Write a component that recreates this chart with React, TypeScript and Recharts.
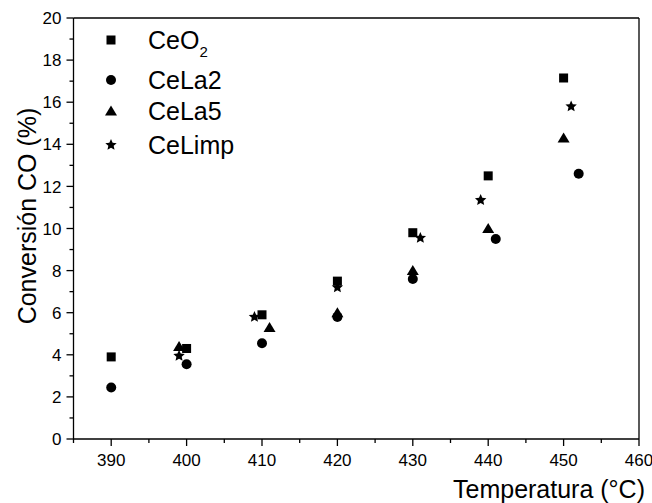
import React from 'react';
import { ScatterChart, Scatter, XAxis, YAxis, ReferenceLine } from 'recharts';

const seriesNames = ['CeO', 'CeLa2', 'CeLa5', 'CeLimp'];
const ceo2X = [390, 400, 410, 420, 430, 440, 450];
const ceo2Y = [3.9, 4.3, 5.9, 7.5, 9.8, 12.5, 17.15];
const cela2X = [390, 400, 410, 420, 430, 441, 452];
const cela2Y = [2.45, 3.55, 4.55, 5.8, 7.6, 9.5, 12.6];
const cela5X = [399, 411, 420, 430, 440, 450];
const cela5Y = [4.4, 5.3, 6.0, 8.0, 10.0, 14.3];
const celimpX = [399, 409, 420, 431, 439, 451];
const celimpY = [3.95, 5.8, 7.2, 9.55, 11.35, 15.8];

const xTicks = [385, 390, 395, 400, 405, 410, 415, 420, 425, 430, 435, 440, 445, 450, 455, 460];
const xLabels = [390, 400, 410, 420, 430, 440, 450, 460];
const yTicks = [0, 1, 2, 3, 4, 5, 6, 7, 8, 9, 10, 11, 12, 13, 14, 15, 16, 17, 18, 19, 20];
const yLabels = [0, 2, 4, 6, 8, 10, 12, 14, 16, 18, 20];
const xMax = 460;
const yMax = 20;

const FONT = 'Liberation Sans';
const AX = '#000';
const AXW = 1.3;
const CHART_W = 652;
const CHART_H = 503;

const toPoints = (xs: number[], ys: number[]) => xs.map((x, i) => ({ x, y: ys[i] }));

const Square = ({ cx, cy }: any) => <rect x={cx - 4.5} y={cy - 4.5} width={9} height={9} fill="#000" />;
const Circle = ({ cx, cy }: any) => <circle cx={cx} cy={cy} r={5} fill="#000" />;
const Triangle = ({ cx, cy }: any) => (
  <polygon points={`${cx - 6},${cy + 4.5} ${cx + 6},${cy + 4.5} ${cx},${cy - 5.5}`} fill="#000" />
);
const Star = ({ cx, cy }: any) => {
  const pts: string[] = [];
  for (let i = 0; i < 10; i++) {
    const r = i % 2 === 0 ? 6 : 2.8;
    const a = -Math.PI / 2 + (i * Math.PI) / 5;
    pts.push(`${cx + r * Math.cos(a)},${cy + r * Math.sin(a)}`);
  }
  return <polygon points={pts.join(' ')} fill="#000" />;
};

const shapes = [Square, Circle, Triangle, Star];

const YTick = (props: any) => {
  const { x, y, payload } = props;
  const major = yLabels.includes(payload.value);
  return (
    <g>
      <line x1={x - (major ? 7 : 4)} x2={x} y1={y} y2={y} stroke={AX} strokeWidth={AXW} />
      {major && (
        <text x={x - 12} y={y} dy="0.36em" textAnchor="end" fontSize={17} fontFamily={FONT} fill="#000">
          {payload.value}
        </text>
      )}
    </g>
  );
};

const XTick = (props: any) => {
  const { x, y, payload } = props;
  const major = xLabels.includes(payload.value);
  return (
    <g>
      <line x1={x} x2={x} y1={y} y2={y + (major ? 7 : 4)} stroke={AX} strokeWidth={AXW} />
      {major && (
        <text x={x} y={y + 27} textAnchor="middle" fontSize={17} fontFamily={FONT} fill="#000">
          {payload.value}
        </text>
      )}
    </g>
  );
};

const legendRows = [40, 80, 111, 145];

export default function App() {
  return (
    <div style={{ position: 'absolute', left: 0, top: 0, width: CHART_W, height: CHART_H, background: '#fff' }}>
      <ScatterChart width={CHART_W} height={CHART_H} margin={{ top: 18, right: 13, bottom: 24, left: 0 }}>
        <XAxis
          type="number"
          dataKey="x"
          domain={[385, 460]}
          ticks={xTicks}
          interval={0}
          height={40}
          tickSize={0}
          tickMargin={0}
          tickLine={false}
          tick={<XTick />}
          stroke={AX}
          axisLine={{ stroke: AX, strokeWidth: AXW }}
        />
        <YAxis
          type="number"
          dataKey="y"
          domain={[0, 20]}
          ticks={yTicks}
          interval={0}
          width={73.5}
          tickSize={0}
          tickMargin={0}
          tickLine={false}
          tick={<YTick />}
          stroke={AX}
          axisLine={{ stroke: AX, strokeWidth: AXW }}
        />
        <ReferenceLine y={yMax} stroke={AX} strokeWidth={AXW} />
        <ReferenceLine x={xMax} stroke={AX} strokeWidth={AXW} />
        <Scatter name={seriesNames[0]} data={toPoints(ceo2X, ceo2Y)} fill="#000" shape={(p: any) => <Square cx={p.cx} cy={p.cy} />} isAnimationActive={false} />
        <Scatter name={seriesNames[1]} data={toPoints(cela2X, cela2Y)} fill="#000" shape={(p: any) => <Circle cx={p.cx} cy={p.cy} />} isAnimationActive={false} />
        <Scatter name={seriesNames[2]} data={toPoints(cela5X, cela5Y)} fill="#000" shape={(p: any) => <Triangle cx={p.cx} cy={p.cy} />} isAnimationActive={false} />
        <Scatter name={seriesNames[3]} data={toPoints(celimpX, celimpY)} fill="#000" shape={(p: any) => <Star cx={p.cx} cy={p.cy} />} isAnimationActive={false} />
      </ScatterChart>
      <svg width={CHART_W} height={CHART_H} style={{ position: 'absolute', left: 0, top: 0, pointerEvents: 'none' }}>
        <text x={645} y={498} textAnchor="end" fontSize={25} fontFamily={FONT} fill="#000">
          Temperatura (°C)
        </text>
        <text x={36} y={216} transform="rotate(-90, 36, 216)" textAnchor="middle" fontSize={25} fontFamily={FONT} fill="#000">
          Conversión CO (%)
        </text>
        {seriesNames.map((name, i) => {
          const Shape = shapes[i];
          const cy = legendRows[i];
          return (
            <g key={name}>
              <Shape cx={111} cy={cy} />
              <text x={148} y={cy + 9} fontSize={25} fontFamily={FONT} fill="#000">
                {name}
                {i === 0 && (
                  <tspan fontSize={15} dy={8}>
                    2
                  </tspan>
                )}
              </text>
            </g>
          );
        })}
      </svg>
    </div>
  );
}
